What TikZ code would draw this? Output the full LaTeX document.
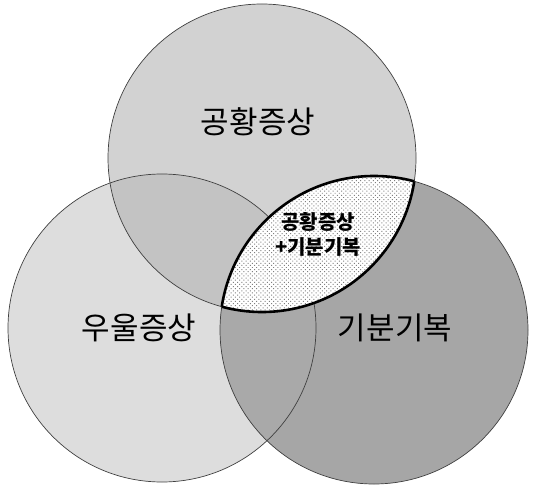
\documentclass[tikz,border=0pt]{standalone}
\usepackage{fontspec}
\newfontfamily\kr{Noto Sans CJK KR}
\usepackage{xcolor}
\usetikzlibrary{patterns.meta}

\definecolor{topgray}{gray}{0.824}
\definecolor{leftgray}{gray}{0.867}
\definecolor{rightgray}{gray}{0.651}
\definecolor{tlgray}{gray}{0.765}
\definecolor{lrgray}{gray}{0.663}

\begin{document}
\begin{tikzpicture}[
  x=1pt, y=-1pt,
  ring/.style={draw=black!75, line width=0.7pt},
  lensedge/.style={draw=black, line width=2.6pt},
  lbl/.style={font=\kr\fontsize{31}{31}\selectfont, text=black},
  core/.style={font=\kr\bfseries\fontsize{20}{25}\selectfont, align=center}
]
  \useasboundingbox (0,0) rectangle (534,486);
  \coordinate (ct) at (262,158);
  \coordinate (cl) at (162,328);
  \coordinate (cr) at (374,330);

  % circle fills
  \fill[leftgray] (cl) circle[radius=154pt];
  \fill[topgray]  (ct) circle[radius=154pt];
  \begin{scope}
    \clip (cl) circle[radius=154pt];
    \fill[tlgray] (ct) circle[radius=154pt];
  \end{scope}
  \fill[rightgray] (cr) circle[radius=154pt];
  \begin{scope}
    \clip (cl) circle[radius=154pt];
    \fill[lrgray] (cr) circle[radius=154pt];
  \end{scope}

  % outlines
  \draw[ring] (ct) circle[radius=154pt];
  \draw[ring] (cl) circle[radius=154pt];
  \draw[ring] (cr) circle[radius=154pt];

  % lens: top and right
  \begin{scope}
    \clip (ct) circle[radius=154pt];
    \fill[white] (cr) circle[radius=154pt];
    \fill[pattern={Dots[radius=0.7pt, distance=3pt, angle=45]},
          pattern color=black!50] (cr) circle[radius=154pt];
    \draw[lensedge] (cr) circle[radius=154pt];
  \end{scope}
  \begin{scope}
    \clip (cr) circle[radius=154pt];
    \draw[lensedge] (ct) circle[radius=154pt];
  \end{scope}

  \node[lbl] (panic) at (258,122) {공황증상};
  \node[lbl] (depr)  at (139,328) {우울증상};
  \node[lbl] (mood)  at (395,328) {기분기복};
  \node[core] (both) at (318,234) {공황증상\\+기분기복};
\end{tikzpicture}
\end{document}
